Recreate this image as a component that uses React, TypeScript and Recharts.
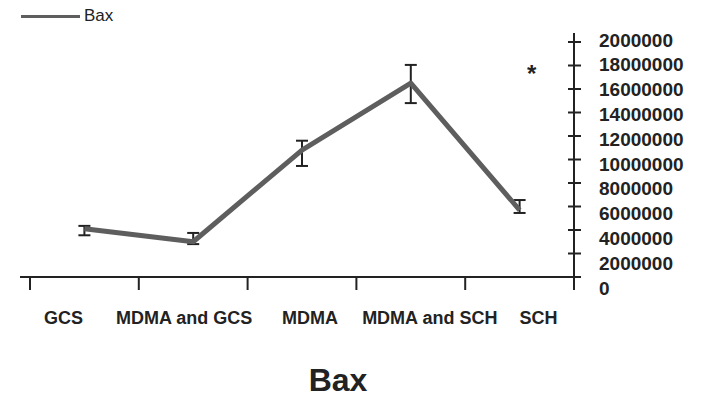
import { LineChart, Line, XAxis, YAxis, ErrorBar, ReferenceDot } from "recharts"

const categories = ["GCS", "MDMA and GCS", "MDMA", "MDMA and SCH", "SCH"]
const baxValues = [4100000, 3000000, 10800000, 16500000, 5700000]
// [below, above] the mean
const baxErrors: [number, number][] = [
  [550000, 250000],
  [200000, 750000],
  [1350000, 800000],
  [1700000, 1550000],
  [250000, 850000],
]
const yTicks = [0, 2000000, 4000000, 6000000, 8000000, 10000000, 12000000, 14000000, 16000000, 18000000, 20000000]
const yTickLabels = ["0", "2000000", "4000000", "6000000", "8000000", "10000000", "12000000", "14000000", "16000000", "18000000", "2000000"]
const markers = [{ category: "SCH", value: 17300000, text: "*" }]

const data = categories.map((name, i) => ({ name, bax: baxValues[i], err: baxErrors[i] }))

const W = 724
const H = 400
const LEFT = 20
const RIGHT = 574
const TOP = 42
const BOTTOM = 277
const PAD_LEFT = 10
const BAND = (RIGHT - LEFT - PAD_LEFT) / categories.length
const INK = "#222"
const FONT = "'Liberation Sans', Arial, sans-serif"
const labelShift = [-21, -9, 8, 19, 19]

function XTick(props: any) {
  const { x, y, index } = props
  const last = index === categories.length - 1
  return (
    <g>
      <line x1={x - BAND / 2} x2={x - BAND / 2} y1={y} y2={y + 13} stroke={INK} strokeWidth={2} />
      {last && <line x1={x + BAND / 2} x2={x + BAND / 2} y1={y} y2={y + 13} stroke={INK} strokeWidth={2} />}
      <text x={x + labelShift[index]} y={y + 41} textAnchor="middle" dominantBaseline="central"
        fontFamily={FONT} fontSize={18} fontWeight="bold" fill={INK}>
        {categories[index]}
      </text>
    </g>
  )
}

function YTick(props: any) {
  const { x, y, index } = props
  const axisX = x - 25
  const last = index === yTicks.length - 1
  return (
    <g>
      <line x1={axisX - 6} x2={axisX + 7} y1={y} y2={y} stroke={INK} strokeWidth={2} />
      {last && <line x1={axisX} x2={axisX} y1={y - 9} y2={y} stroke={INK} strokeWidth={2} />}
      <text x={x} y={y + 11 - 1.3 * index} dominantBaseline="central"
        fontFamily={FONT} fontSize={19} fontWeight="bold" fill={INK}>
        {yTickLabels[index]}
      </text>
    </g>
  )
}

export default function App() {
  return (
    <div style={{ position: "absolute", left: 0, top: 0, width: W, height: H, background: "#fff" }}>
      <LineChart width={W} height={H} data={data}
        margin={{ top: TOP, right: 0, bottom: 0, left: LEFT }}>
        <XAxis dataKey="name" scale="band" padding={{ left: PAD_LEFT, right: 0 }} height={H - BOTTOM}
          interval={0} tickLine={false} tickSize={0} tickMargin={0}
          axisLine={{ stroke: INK, strokeWidth: 2 }} tick={<XTick />} />
        <YAxis orientation="right" width={W - RIGHT} domain={[0, 20000000]} ticks={yTicks}
          interval={0} tickLine={false} tickSize={0} tickMargin={25}
          axisLine={{ stroke: INK, strokeWidth: 2 }} tick={<YTick />} />
        <Line dataKey="bax" stroke="#5e5e5e" strokeWidth={5} strokeLinejoin="round" dot={false}
          activeDot={false} isAnimationActive={false}>
          <ErrorBar dataKey="err" direction="y" width={6} stroke={INK} strokeWidth={2}
            isAnimationActive={false} />
        </Line>
        {markers.map((m) => (
          <ReferenceDot key={m.category} x={m.category} y={m.value} r={0}
            label={{ value: m.text, position: "center", dx: 12, fontSize: 24, fontWeight: "bold", fill: INK, fontFamily: FONT }} />
        ))}
      </LineChart>
      <div style={{ position: "absolute", left: 21, top: 6, display: "flex", alignItems: "center",
        fontFamily: FONT, fontSize: 17, color: INK }}>
        <span style={{ display: "inline-block", width: 59, height: 3, background: "#5e5e5e", marginRight: 4 }} />
        Bax
      </div>
      <div style={{ position: "absolute", left: 0, width: W - 48, top: 362, textAlign: "center",
        fontFamily: FONT, fontSize: 32, fontWeight: "bold", color: INK }}>
        Bax
      </div>
    </div>
  )
}
